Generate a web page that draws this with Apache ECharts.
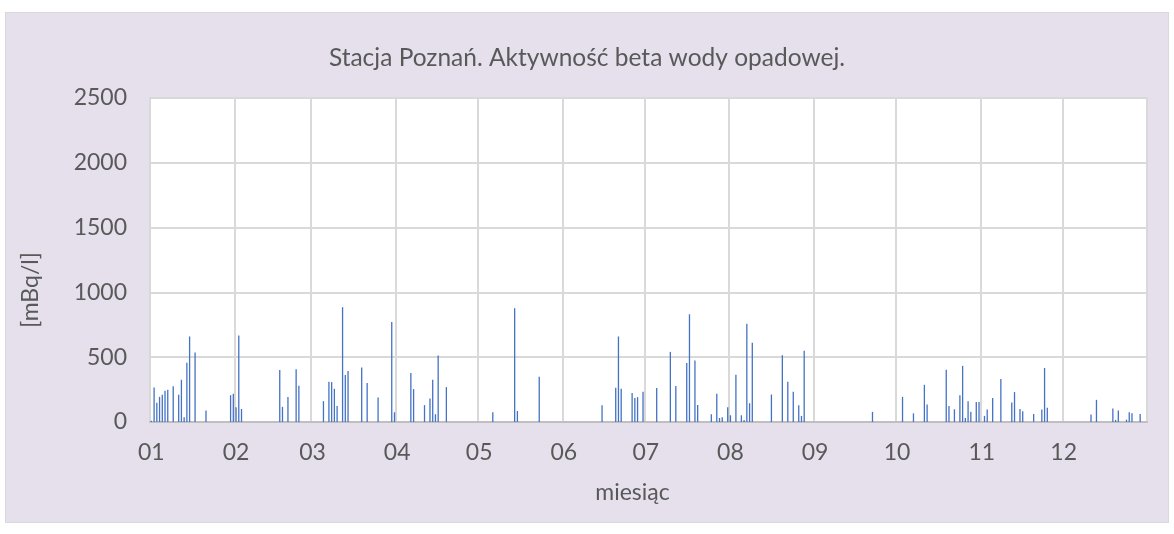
<!DOCTYPE html>
<html>
<head>
<meta charset="utf-8">
<script src="https://cdn.jsdelivr.net/npm/echarts@6/dist/echarts.min.js"></script>
<style>
  html, body { margin: 0; padding: 0; background: #fff; }
  #frame {
    position: absolute; left: 5px; top: 12px; width: 1162px; height: 509px;
    background: #e5e0ec; border: 1px solid #d9d9d9;
  }
  #chart { position: absolute; left: 0; top: 0; width: 1174px; height: 534px; }
</style>
</head>
<body>
<div id="frame"></div>
<div id="chart"></div>
<script>
// first day (0-based day of year) of each month and its label
const monthStarts = [0, 31, 59, 90, 120, 151, 181, 212, 243, 273, 304, 334]
const monthLabels = ['01', '02', '03', '04', '05', '06', '07', '08', '09', '10', '11', '12']

// day of year of each measurement and the measured activity [mBq/l]
const sampleDays = [
  0, 1, 2, 3, 4, 5, 6, 8, 10, 11, 12, 13, 14, 16, 20, 29, 30, 31, 32, 33,
  47, 48, 50, 53, 54, 63, 65, 66, 67, 68, 70, 71, 72, 77, 79, 83, 88, 89,
  95, 96, 100, 102, 103, 104, 105, 108, 125, 133, 134, 142,
  165, 170, 171, 172, 176, 177, 178, 180, 185, 190, 192, 196, 197, 199, 200,
  205, 207, 208, 209, 211, 212, 214, 216, 217, 218, 219, 220, 227, 231, 233,
  235, 237, 238, 239, 264, 275, 279, 283, 284, 291, 292, 294, 296, 297, 298,
  299, 300, 302, 303, 305, 306, 308, 311, 315, 316, 318, 319, 323, 326, 327,
  328, 344, 346, 352, 353, 354, 357, 358, 359, 362
]
const sampleValues = [
  10, 267, 148, 194, 210, 241, 249, 275, 210, 326, 36, 458, 660, 536, 88, 207, 218, 114, 668, 101,
  401, 117, 192, 407, 280, 161, 311, 308, 256, 124, 886, 363, 394, 420, 300, 189, 772, 75,
  378, 254, 130, 181, 326, 60, 513, 269, 75, 878, 85, 350,
  130, 264, 660, 256, 223, 186, 192, 233, 262, 541, 277, 456, 831, 474, 132,
  60, 218, 31, 36, 114, 52, 365, 52, 16, 759, 145, 611, 212, 515, 311,
  233, 130, 47, 549, 78, 194, 67, 287, 135, 404, 124, 98, 207, 433, 31,
  161, 80, 155, 155, 47, 96, 186, 332, 150, 231, 101, 83, 62, 96, 417,
  109, 57, 171, 104, 16, 88, 18, 75, 67, 62
]

const yTicks = { min: 0, max: 2500, interval: 500 }

const days = []
const values = []
for (let d = 0; d < 365; d++) {
  days.push(d)
  values.push(null)
}
sampleDays.forEach((d, i) => { values[d] = sampleValues[i] })

const isMonthStart = (idx) => monthStarts.indexOf(idx) >= 0
const font = 'Lato'
const txt = '#595959'

const chart = echarts.init(document.getElementById('chart'))
chart.setOption({
  backgroundColor: 'transparent',
  animation: false,
  title: {
    text: 'Stacja Poznań. Aktywność beta wody opadowej.',
    left: 'center',
    top: 41,
    textStyle: { fontFamily: font, fontSize: 24.5, fontWeight: 'normal', color: txt }
  },
  grid: { left: 150, top: 98, right: 27, bottom: 112, backgroundColor: '#fff', show: true, borderWidth: 0 },
  xAxis: {
    type: 'category',
    data: days,
    boundaryGap: true,
    name: 'miesiąc',
    nameLocation: 'middle',
    nameGap: 59,
    nameTextStyle: { fontFamily: font, fontSize: 23, color: txt, padding: [0, 32, 0, 0] },
    axisLine: { lineStyle: { color: '#bfbfbf', width: 2 } },
    axisTick: { show: false },
    axisLabel: {
      interval: (idx) => isMonthStart(idx),
      formatter: (v) => monthLabels[monthStarts.indexOf(Number(v))],
      margin: 19,
      fontFamily: font, fontSize: 23, color: txt
    },
    splitLine: {
      show: true,
      interval: (idx) => isMonthStart(idx) && idx > 0,
      lineStyle: { color: '#d9d9d9', width: 2 }
    }
  },
  yAxis: {
    type: 'value',
    min: yTicks.min,
    max: yTicks.max,
    interval: yTicks.interval,
    name: '[mBq/l]',
    nameLocation: 'middle',
    nameGap: 108,
    nameTextStyle: { fontFamily: font, fontSize: 23, color: txt, padding: [0, 60, 0, 0] },
    axisLine: { show: true, lineStyle: { color: '#d9d9d9', width: 2 } },
    axisTick: { show: false },
    axisLabel: {
      margin: 23,
      formatter: (v) => String(v),
      fontFamily: font, fontSize: 23, color: txt
    },
    splitLine: { lineStyle: { color: '#d9d9d9', width: 2 } }
  },
  series: [{
    type: 'bar',
    data: values,
    barWidth: 1.3,
    itemStyle: { color: '#4472c4' }
  }]
})
</script>
</body>
</html>
